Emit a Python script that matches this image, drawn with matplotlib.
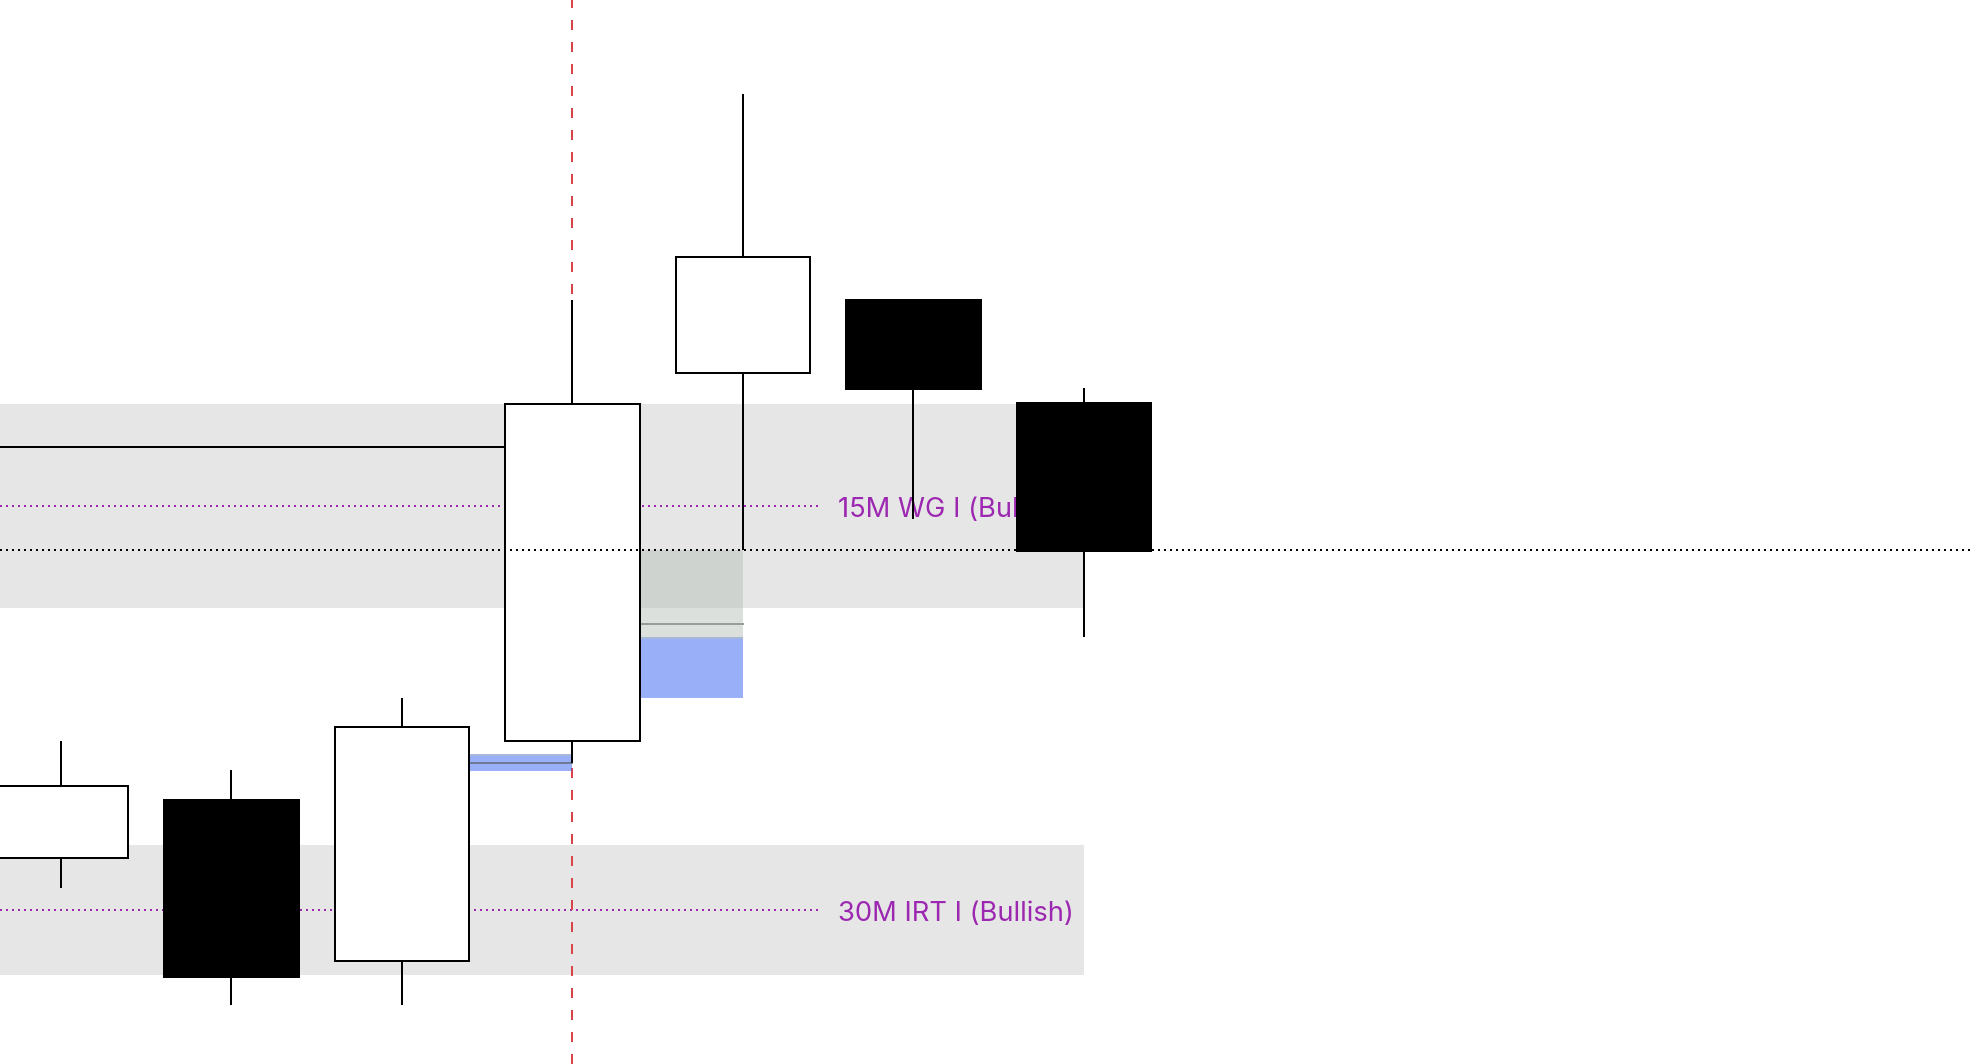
import matplotlib
matplotlib.use("Agg")
import matplotlib.pyplot as plt
from matplotlib.patches import Rectangle

# candles (price units, oldest first)
opens = [21051.5, 21066.0, 21025.75, 21080.75, 21172.75, 21191.0, 21165.25]
highs = [21080.75, 21073.5, 21091.5, 21191.0, 21242.5, 21191.0, 21169.0]
lows = [21044.0, 21014.75, 21014.75, 21075.25, 21128.5, 21136.25, 21106.75]
closes = [21069.5, 21021.75, 21084.25, 21165.0, 21201.75, 21168.75, 21128.25]

# zones: (top, bottom, label)
zone_tops = [21165.0, 21054.75]
zone_bottoms = [21114.0, 21022.25]
zone_labels = ["15M WG I (Bullish)", "30M IRT I (Bullish)"]

# levels
swing_level = 21154.25
low_level = 21128.5
marker_bar = 3

# small imbalance (candle 3 -> 4)
small_gap_top = 21077.5
small_gap_bottom = 21073.25

# fair value gap (candle 3 high -> candle 5 low), filled down to candle 7 low
fvg_top = 21128.5
fvg_bottom = 21091.5
fvg_filled_to = 21106.75

PURPLE = "#9c27b0"
BLUE = "#3561f1"
LW = 1.44


def draw_candles(ax):
    w = 0.79
    for i in range(len(opens)):
        o, h, l, c = opens[i], highs[i], lows[i], closes[i]
        ax.plot([i, i], [l, h], color="black", lw=LW, zorder=4, solid_capstyle="butt")
        bull = c >= o
        ax.add_patch(Rectangle((i - w / 2, min(o, c)), w, abs(c - o),
                               facecolor="white" if bull else "black",
                               edgecolor="black", lw=LW, zorder=5))


def draw_zones(ax, x0):
    for top, bot, label in zip(zone_tops, zone_bottoms, zone_labels):
        ax.add_patch(Rectangle((x0, bot), 6 - x0, top - bot, facecolor="#e6e6e6",
                               edgecolor="none", zorder=1))
        mid = (top + bot) / 2
        ax.plot([x0, 4.46], [mid, mid], color=PURPLE, lw=LW, ls=(0, (1, 2)), zorder=2)
        ax.text(4.555, mid - 1.0, label, color=PURPLE, fontsize=19.7,
                family=["Inter", "DejaVu Sans"], ha="left", va="center", zorder=2)


def draw_gaps(ax):
    # small one
    ax.add_patch(Rectangle((2, small_gap_bottom), 1, small_gap_top - small_gap_bottom,
                           facecolor=BLUE, alpha=0.5, edgecolor="none", zorder=3))
    ax.add_patch(Rectangle((2, small_gap_top - 0.5), 1, 0.5,
                           facecolor="#b6c0b8", alpha=0.48, edgecolor="none", zorder=3))
    mid = (small_gap_top + small_gap_bottom) / 2
    ax.plot([2, 3], [mid, mid], color="#555555", alpha=0.6, lw=LW, zorder=3)

    # fvg
    ax.add_patch(Rectangle((3, fvg_bottom), 1, fvg_filled_to - fvg_bottom,
                           facecolor=BLUE, alpha=0.5, edgecolor="none", zorder=3))
    ax.add_patch(Rectangle((3, fvg_filled_to - 0.5), 1, fvg_top - fvg_filled_to + 0.5,
                           facecolor="#b6c0b8", alpha=0.48, edgecolor="none", zorder=3))
    ce = (fvg_top + fvg_bottom) / 2
    ax.plot([3, 4], [ce, ce], color="#999c9a", lw=LW, zorder=3)


fig = plt.figure(figsize=(19.72, 10.64), dpi=100)
ax = fig.add_axes([0, 0, 1, 1])
x0, x1 = -0.358, 11.21
ax.set_xlim(x0, x1)
ax.set_ylim(21000, 21266)
ax.axis("off")

draw_zones(ax, x0)
ax.plot([x0, marker_bar], [swing_level, swing_level], color="black", lw=LW, zorder=2)
ax.axvline(marker_bar, color="#d9434a", lw=LW, ls=(0, (5, 6)), zorder=2.5)
draw_gaps(ax)
draw_candles(ax)
ax.plot([x0, x1], [low_level, low_level], color="black", lw=LW, ls=(0, (1, 2)), zorder=6)

fig.savefig("out.png", dpi=100, facecolor="white")
